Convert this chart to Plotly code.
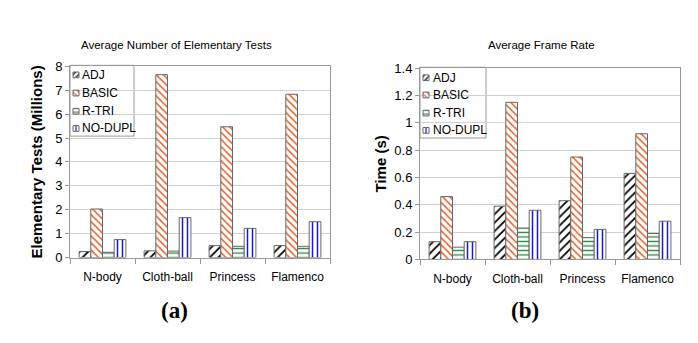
import plotly.graph_objects as go

categories = ["N-body", "Cloth-ball", "Princess", "Flamenco"]
series_names = ["ADJ", "BASIC", "R-TRI", "NO-DUPL"]

tests_adj = [0.25, 0.28, 0.50, 0.50]
tests_basic = [2.03, 7.65, 5.47, 6.83]
tests_rtri = [0.22, 0.27, 0.47, 0.47]
tests_nodupl = [0.75, 1.67, 1.22, 1.50]

time_adj = [0.13, 0.39, 0.43, 0.63]
time_basic = [0.46, 1.15, 0.75, 0.92]
time_rtri = [0.09, 0.23, 0.16, 0.19]
time_nodupl = [0.13, 0.36, 0.22, 0.28]

left_ticks = [0, 1, 2, 3, 4, 5, 6, 7, 8]
right_ticks = [0, 0.2, 0.4, 0.6, 0.8, 1, 1.2, 1.4]

styles = [
    dict(shape="/", fg="#000000", size=6),
    dict(shape="\\", fg="#E8602A", size=5),
    dict(shape="-", fg="#2E8446", size=4.5),
    dict(shape="|", fg="#1818D8", size=5),
]

W, H = 698, 343
font = "Liberation Sans, Arial, sans-serif"

# plot-area pixel boxes (layout)
P1 = dict(x0=70, x1=330, y0=62, y1=262)
P2 = dict(x0=420, x1=680, y0=64, y1=264)
# custom legend layout (pixels)
L1 = dict(box=(70, 61, 134, 135), sw_x=73, txt_x=80, rows=[71, 90, 109, 127])
L2 = dict(box=(420, 63, 486, 137), sw_x=423, txt_x=431, rows=[74, 92, 111, 129])
SW = 6

fig = go.Figure()
left_data = [tests_adj, tests_basic, tests_rtri, tests_nodupl]
right_data = [time_adj, time_basic, time_rtri, time_nodupl]


def marker_for(st, size=None):
    return dict(color="white", line=dict(color="#666666", width=1),
                pattern=dict(shape=st["shape"], fgcolor=st["fg"], bgcolor="white",
                             fgopacity=1, size=size or st["size"], solidity=0.3,
                             fillmode="overlay"))


for i, name in enumerate(series_names):
    fig.add_trace(go.Bar(
        x=categories, y=left_data[i], name=name, xaxis="x", yaxis="y",
        showlegend=False, marker=marker_for(styles[i]),
    ))
for i, name in enumerate(series_names):
    fig.add_trace(go.Bar(
        x=categories, y=right_data[i], name=name, xaxis="x2", yaxis="y2",
        showlegend=False, marker=marker_for(styles[i]),
    ))

shapes = []
annotations = []
for L, xa, ya in [(L1, "x3", "y3"), (L2, "x4", "y4")]:
    bx0, by0, bx1, by1 = L["box"]
    shapes.append(dict(type="rect", xref="paper", yref="paper",
                       x0=bx0 / W, x1=bx1 / W, y0=1 - by1 / H, y1=1 - by0 / H,
                       fillcolor="white", line=dict(color="#999999", width=1),
                       layer="between"))
    for i, name in enumerate(series_names):
        cy = L["rows"][i]
        fig.add_trace(go.Bar(
            x=[L["sw_x"] + SW / 2], y=[SW], base=[cy - SW / 2], width=[SW],
            xaxis=xa, yaxis=ya, showlegend=False, offsetgroup="leg",
            hoverinfo="skip", marker=marker_for(styles[i], size=4),
        ))
        annotations.append(dict(text=name, x=L["txt_x"] / W, y=1 - cy / H,
                                xref="paper", yref="paper", showarrow=False,
                                xanchor="left", yanchor="middle",
                                font=dict(family=font, size=12, color="black")))

axis_common = dict(showline=True, linecolor="#999999", mirror=True, ticks="outside",
                   tickson="boundaries", ticklen=5, tickcolor="#999999",
                   ticklabelstandoff=8,
                   tickfont=dict(family=font, size=12, color="black"))
yaxis_common = dict(showline=True, linecolor="#999999", mirror=True, ticks="outside",
                    ticklen=4, tickcolor="#999999", showgrid=True, gridcolor="#CFCFCF",
                    tickfont=dict(family=font, size=13, color="black"), zeroline=False)
hidden = dict(visible=False, showgrid=False, zeroline=False, fixedrange=True)

annotations += [
    dict(text="Average Number of Elementary Tests", x=176 / W, y=1 - 40 / H,
         xref="paper", yref="paper", showarrow=False, xanchor="center", yanchor="middle",
         font=dict(family=font, size=11.5, color="black")),
    dict(text="Average Frame Rate", x=541 / W, y=1 - 40 / H,
         xref="paper", yref="paper", showarrow=False, xanchor="center", yanchor="middle",
         font=dict(family=font, size=11.5, color="black")),
    dict(text="<b>(a)</b>", x=174 / W, y=1 - 317 / H,
         xref="paper", yref="paper", showarrow=False, xanchor="center", yanchor="middle",
         font=dict(family="Liberation Serif, Times New Roman, serif", size=23, color="black")),
    dict(text="<b>(b)</b>", x=525 / W, y=1 - 317 / H,
         xref="paper", yref="paper", showarrow=False, xanchor="center", yanchor="middle",
         font=dict(family="Liberation Serif, Times New Roman, serif", size=23, color="black")),
]

fig.update_layout(
    width=W, height=H, margin=dict(l=0, r=0, t=0, b=0),
    paper_bgcolor="white", plot_bgcolor="rgba(0,0,0,0)",
    barmode="group", bargap=0.28, bargroupgap=0,
    xaxis=dict(domain=[P1["x0"] / W, P1["x1"] / W], anchor="y", **axis_common),
    yaxis=dict(domain=[1 - P1["y1"] / H, 1 - P1["y0"] / H], anchor="x", range=[0, 8],
               tickvals=left_ticks,
               title=dict(text="<b>Elementary Tests (Millions)</b>", standoff=8,
                          font=dict(family=font, size=15, color="black")),
               **yaxis_common),
    xaxis2=dict(domain=[P2["x0"] / W, P2["x1"] / W], anchor="y2", **axis_common),
    yaxis2=dict(domain=[1 - P2["y1"] / H, 1 - P2["y0"] / H], anchor="x2", range=[0, 1.4],
                tickvals=right_ticks,
                ticktext=[str(v) if v not in (0, 1) else str(int(v)) for v in right_ticks],
                title=dict(text="<b>Time (s)</b>", standoff=4,
                           font=dict(family=font, size=15, color="black")),
                **yaxis_common),
    xaxis3=dict(overlaying="x", anchor="y3", range=[P1["x0"], P1["x1"]], **hidden),
    yaxis3=dict(overlaying="y", anchor="x3", range=[P1["y1"], P1["y0"]], **hidden),
    xaxis4=dict(overlaying="x2", anchor="y4", range=[P2["x0"], P2["x1"]], **hidden),
    yaxis4=dict(overlaying="y2", anchor="x4", range=[P2["y1"], P2["y0"]], **hidden),
    shapes=shapes,
    annotations=annotations,
)

fig.write_html("out.html")
